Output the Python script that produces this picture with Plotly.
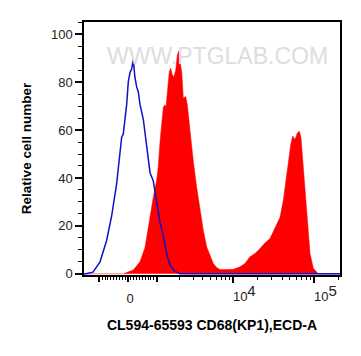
import numpy as np
import plotly.graph_objects as go

# ---- data (display position in decade units, relative cell number) ----
iso_pos = [2.157, 2.181, 2.267, 2.354, 2.437, 2.499, 2.560, 2.601, 2.622, 2.642, 2.663,
           2.684, 2.704, 2.725, 2.746, 2.765, 2.786, 2.807, 2.827, 2.848, 2.889, 2.931,
           2.972, 3.012, 3.054, 3.095, 3.136, 3.178, 3.219, 3.280, 3.342, 3.465, 5.317]
iso_count = [0, 0, 0.7, 4.9, 14, 24.3, 37.6, 50, 57, 58.3, 64.5,
             70.7, 80.2, 84, 85.6, 89.3, 82, 78, 76, 70.7, 64.5, 53.3,
             42.2, 38.8, 30.6, 21.4, 16, 8.2, 3.6, 1, 0, 0, 0]

cd68_pos = [2.157, 2.642, 2.765, 2.848, 2.910, 2.972, 3.012, 3.054, 3.074, 3.095, 3.116,
            3.136, 3.157, 3.169, 3.185, 3.198, 3.210, 3.227, 3.247, 3.268, 3.289, 3.309,
            3.326, 3.342, 3.363, 3.383, 3.412, 3.432, 3.465, 3.506, 3.548, 3.589, 3.630,
            3.672, 3.712, 3.753, 3.795, 3.836, 3.919, 4.000, 4.083, 4.144, 4.206, 4.268,
            4.330, 4.391, 4.453, 4.515, 4.577, 4.617, 4.651, 4.679, 4.709, 4.733, 4.762,
            4.790, 4.815, 4.836, 4.857, 4.885, 4.914, 4.947, 4.988, 5.049, 5.317]
cd68_count = [0, 0, 1.6, 5, 11, 24, 32, 39, 45, 55, 63.7,
              69.5, 70.6, 69.5, 75.4, 81, 84.4, 85.8, 83, 82.3, 85, 91.3,
              93, 88.5, 84.4, 73.3, 74, 70.6, 59.5, 47.1, 36, 26.4, 18.1,
              11.2, 7.5, 4.3, 2.6, 1.8, 1.8, 1.9, 2.9, 4.3, 7.1, 8.5,
              10.6, 12.9, 14.7, 19.5, 23.6, 30.6, 38.8, 47.1, 54, 57.5, 56.1,
              58.8, 59.5, 56.8, 47.1, 33.3, 19.5, 8.5, 2.3, 0, 0]

decade_vals = [1e4, 1e5]
decade_text = ["10<sup><span style=\"font-size:15px\">4</span></sup>",
               "10<sup><span style=\"font-size:15px\">5</span></sup>"]
zero_vals = [0]
zero_text = ["0"]
unlabeled_major_vals = [-1000, 1000]
minor_vals = ([-v for v in range(100, 1000, 100)] + list(range(100, 1000, 100)) +
              [k * 1000 for k in range(2, 10)] + [k * 10000 for k in range(2, 10)] + [200000])

y_ticks = [0, 20, 40, 60, 80, 100]


def scale(v):
    """biexponential-like display transform (decade units)"""
    v = float(v)
    if abs(v) <= 1000:
        return 2.70 + v * 0.000354
    if v < 1e4:
        return 3.054 + (np.log10(v) - 3) * 0.946
    return np.log10(v)


FONT = "Liberation Sans, Arial, sans-serif"
XRANGE = [2.157, 5.317]
TICKFONT = dict(family=FONT, size=13, color="#222")

fig = go.Figure()
fig.add_trace(go.Scatter(x=cd68_pos, y=cd68_count, mode="lines", fill="tozeroy",
                         fillcolor="#ff0000", line=dict(color="#ff0000", width=0.5),
                         hoverinfo="skip", showlegend=False))
fig.add_trace(go.Scatter(x=iso_pos, y=iso_count, mode="lines",
                         line=dict(color="#1010c8", width=1.5),
                         hoverinfo="skip", showlegend=False))
# invisible traces to activate the extra x axes (tick carriers)
fig.add_trace(go.Scatter(x=[], y=[], xaxis="x2", yaxis="y", showlegend=False, hoverinfo="skip"))
fig.add_trace(go.Scatter(x=[], y=[], xaxis="x3", yaxis="y", showlegend=False, hoverinfo="skip"))

fig.add_annotation(x=0.52, y=0.925, xref="paper", yref="paper", text="WWW.PTGLAB.COM",
                   showarrow=False, font=dict(family=FONT, size=23, color="#dddddd"))

# page body has an 8px margin: compensate so the plot sits where the reference has it
fig.update_layout(
    width=353, height=348,
    margin=dict(l=76, r=21, t=12, b=81),
    plot_bgcolor="white", paper_bgcolor="white",
    font=dict(family=FONT, color="#222"),
    xaxis=dict(
        range=XRANGE, showgrid=False, zeroline=False,
        showline=True, linecolor="black", linewidth=1.5, mirror=True,
        tickmode="array", tickvals=[scale(v) for v in decade_vals], ticktext=decade_text,
        ticks="outside", ticklen=6, tickwidth=1.5, tickcolor="black",
        tickfont=TICKFONT, ticklabelshift=11, ticklabelstandoff=3,
        minor=dict(tickmode="array", tickvals=[scale(v) for v in minor_vals],
                   ticks="outside", ticklen=3, tickwidth=1, tickcolor="black"),
        title=dict(text="<b>CL594-65593 CD68(KP1),ECD-A</b>", font=dict(size=14, color="black"),
                   standoff=17),
    ),
    xaxis2=dict(
        range=XRANGE, overlaying="x", side="bottom", anchor="y",
        showgrid=False, zeroline=False, showline=False, showticklabels=False,
        tickmode="array", tickvals=[scale(v) for v in unlabeled_major_vals],
        ticks="outside", ticklen=6, tickwidth=1.5, tickcolor="black",
    ),
    xaxis3=dict(
        range=XRANGE, overlaying="x", side="bottom", anchor="y",
        showgrid=False, zeroline=False, showline=False,
        tickmode="array", tickvals=[scale(v) for v in zero_vals], ticktext=zero_text,
        ticks="outside", ticklen=6, tickwidth=1.5, tickcolor="black",
        tickfont=TICKFONT, ticklabelshift=2, ticklabelstandoff=5,
    ),
    yaxis=dict(
        range=[-0.5, 105.1], showgrid=False, zeroline=False,
        showline=True, linecolor="black", linewidth=1.5, mirror=True,
        tickmode="array", tickvals=y_ticks,
        ticks="outside", ticklen=7, tickwidth=1.5, tickcolor="black",
        tickfont=TICKFONT,
        minor=dict(dtick=5, tick0=0, ticks="outside", ticklen=4, tickwidth=1, tickcolor="black"),
        title=dict(text="<b>Relative cell number</b>", font=dict(size=13.5, color="black"),
                   standoff=16),
    ),
)

fig.write_html("out.html")
